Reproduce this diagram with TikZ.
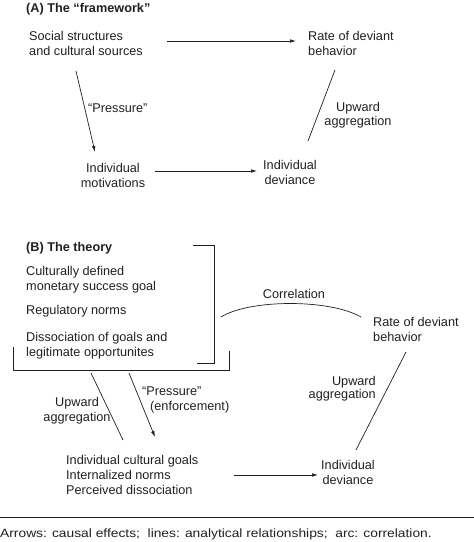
\documentclass[tikz,border=0pt]{standalone}
\usepackage{fontspec}
\setmainfont{Liberation Sans}
\newfontfamily\notefont[FakeStretch=1.15]{Liberation Sans}
\usetikzlibrary{arrows.meta}
\definecolor{ink}{HTML}{231F20}
\tikzset{
  txt/.style={inner sep=0pt, align=left, text=ink, font=\fontsize{12.7}{15}\selectfont},
  head/.style={txt, font=\fontsize{12.7}{15}\selectfont\bfseries},
  cause/.style={draw=ink, line width=0.7pt, -{Latex[length=6pt,width=3.6pt]}},
  rel/.style={draw=ink, line width=0.7pt}
}
\begin{document}
\begin{tikzpicture}[x=1pt, y=-1pt]
    \useasboundingbox (0,0) rectangle (474,542);

    \node[head, anchor=west] (titleA) at (26,9) {(A) The “framework”};
    \node[txt, anchor=west] (social) at (29,43) {Social structures\\and cultural sources};
    \node[txt, anchor=west] (rateA) at (308,43) {Rate of deviant\\behavior};
    \node[txt, align=center] (motiv) at (113,175) {Individual\\motivations};
    \node[txt, align=center] (devA) at (290,172) {Individual\\deviance};
    \node[txt, anchor=west] (pressA) at (88,108) {“Pressure”};
    \node[txt, align=center, font=\fontsize{12.7}{13.5}\selectfont] (aggA) at (358,115) {Upward\\aggregation};

    \draw[cause] ([shift={(138,-2)}]social.west) -- ([shift={(-12,-2)}]rateA.west);
    \draw[cause] ([shift={(47,28)}]social.west) -- ([shift={(-18,-23)}]motiv.center);
    \draw[cause] ([shift={(42,-4)}]motiv.center) -- ([shift={(-33,-1)}]devA.center);
    \draw[rel] ([shift={(18,-31)}]devA.center) -- ([shift={(27,27)}]rateA.west);

    \node[head, anchor=west] (titleB) at (26,248) {(B) The theory};
    \node[txt, anchor=west] (goal) at (26,280) {Culturally defined\\monetary success goal};
    \node[txt, anchor=west] (norms) at (26,311) {Regulatory norms};
    \node[txt, anchor=west] (dissoc) at (26,345.5) {Dissociation of goals and\\legitimate opportunites};
    \coordinate (theoryR) at (214,304);
    \coordinate (theoryB) at (121,370);
    \draw[rel] (193,245) -- (214,245) -- (214,363) -- (197,363);
    \draw[rel] (13,347) -- (13,370) -- (229,370) -- (229,351);

    \node[txt, anchor=west] (rateB) at (373,329.5) {Rate of deviant\\behavior};
    \node[txt] (corr) at (294,294) {Correlation};
    \node[txt, anchor=west] (indiv) at (66,475) {Individual cultural goals\\Internalized norms\\Perceived dissociation};
    \node[txt, align=center] (devB) at (348,472) {Individual\\deviance};
    \node[txt, align=center] (aggL) at (77,410.5) {Upward\\aggregation};
    \node[txt, anchor=west] (pressB) at (142,400) {“Pressure”\\\hspace*{8pt}(enforcement)};
    \node[txt, align=right, anchor=east, font=\fontsize{12.7}{13.5}\selectfont] (aggR) at (376,388.5) {Upward\\aggregation};

    \draw[rel] ([shift={(7,13)}]theoryR) .. controls (250,299) and (330,299) .. ([shift={(-12,-12.5)}]rateB.west);
    \draw[rel] ([shift={(-30,3)}]theoryB) -- ([shift={(57,-35)}]indiv.west);
    \draw[cause] ([shift={(8,3)}]theoryB) -- ([shift={(89,-38)}]indiv.west);
    \draw[cause] ([shift={(168,0)}]indiv.west) -- ([shift={(-30,3)}]devB.center);
    \draw[rel] ([shift={(8,-22)}]devB.center) -- ([shift={(33,22.5)}]rateB.west);

    \draw[rel, line width=0.9pt] (0,517) -- (474,517);
    \node[txt, anchor=west, font=\notefont\fontsize{12}{14}\selectfont] (note) at (0,534) {Arrows: causal effects;\ \ lines: analytical relationships;\ \ arc: correlation.};
\end{tikzpicture}
\end{document}
